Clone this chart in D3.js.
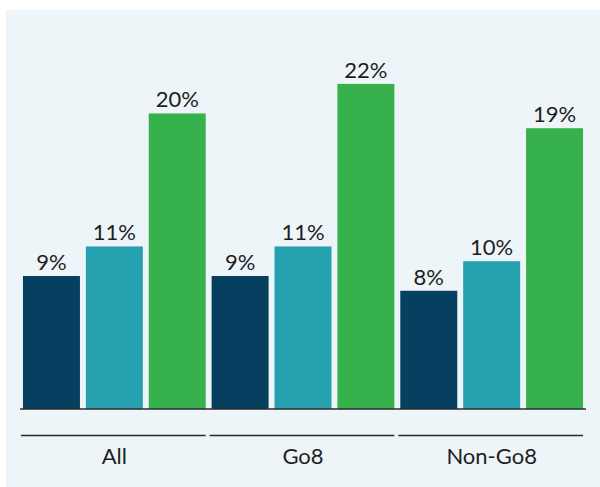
<!DOCTYPE html>
<html>
<head>
<meta charset="utf-8">
<script src="https://cdn.jsdelivr.net/npm/d3@7"></script>
<style>
  body { margin: 0; background: #fff; }
  text { font-family: Lato, "Open Sans", sans-serif; fill: #1e1e1e; }
</style>
</head>
<body>
<div class="chart"></div>
<script>
var categories = ['All', 'Go8', 'Non-Go8'];
var series = ['s1', 's2', 's3'];
var values = {
  s1: [9, 9, 8],
  s2: [11, 11, 10],
  s3: [20, 22, 19]
};
var colors = ['#063f5f', '#25a1b0', '#37b14b'];

var width = 600, height = 487;
var baseY = 409;

var svg = d3.select('.chart')
  .append('svg')
  .attr('width', width)
  .attr('height', height);

svg.append('rect')
  .attr('x', 6).attr('y', 10)
  .attr('width', width - 6).attr('height', height - 10)
  .attr('fill', '#edf5f9');

var x0 = d3.scaleBand()
  .domain(categories)
  .range([20, 586]);

var x1 = d3.scaleBand()
  .domain(series)
  .range([0, x0.bandwidth()])
  .paddingInner(0.094)
  .paddingOuter(0.047);

var y = d3.scaleLinear()
  .domain([0, 27])
  .range([baseY, 10]);

var groups = svg.selectAll('g.grp')
    .data(categories)
  .enter().append('g')
    .attr('class', 'grp')
    .attr('transform', (d) => { return 'translate(' + x0(d) + ',0)'; });

series.forEach((s, si) => {
  groups.append('rect')
    .attr('x', x1(s))
    .attr('y', (d, i) => { return y(values[s][i]); })
    .attr('width', x1.bandwidth())
    .attr('height', (d, i) => { return baseY - y(values[s][i]); })
    .attr('fill', colors[si]);

  groups.append('text')
    .attr('x', x1(s) + x1.bandwidth() / 2)
    .attr('y', (d, i) => { return y(values[s][i]) - 6; })
    .attr('text-anchor', 'middle')
    .style('font-size', '22px')
    .text((d, i) => { return values[s][i] + '%'; });
});

// baseline
svg.append('line')
  .attr('x1', 20).attr('x2', 586)
  .attr('y1', baseY).attr('y2', baseY)
  .attr('stroke', '#2b2b2b')
  .attr('stroke-width', 1.5);

// group separator lines + labels
groups.append('line')
  .attr('x1', 1).attr('x2', x0.bandwidth() - 3)
  .attr('y1', 435.5).attr('y2', 435.5)
  .attr('stroke', '#2b2b2b')
  .attr('stroke-width', 1.5);

groups.append('text')
  .attr('x', x0.bandwidth() / 2)
  .attr('y', 464)
  .attr('text-anchor', 'middle')
  .style('font-size', '22px')
  .text((d) => { return d; });
</script>
</body>
</html>
